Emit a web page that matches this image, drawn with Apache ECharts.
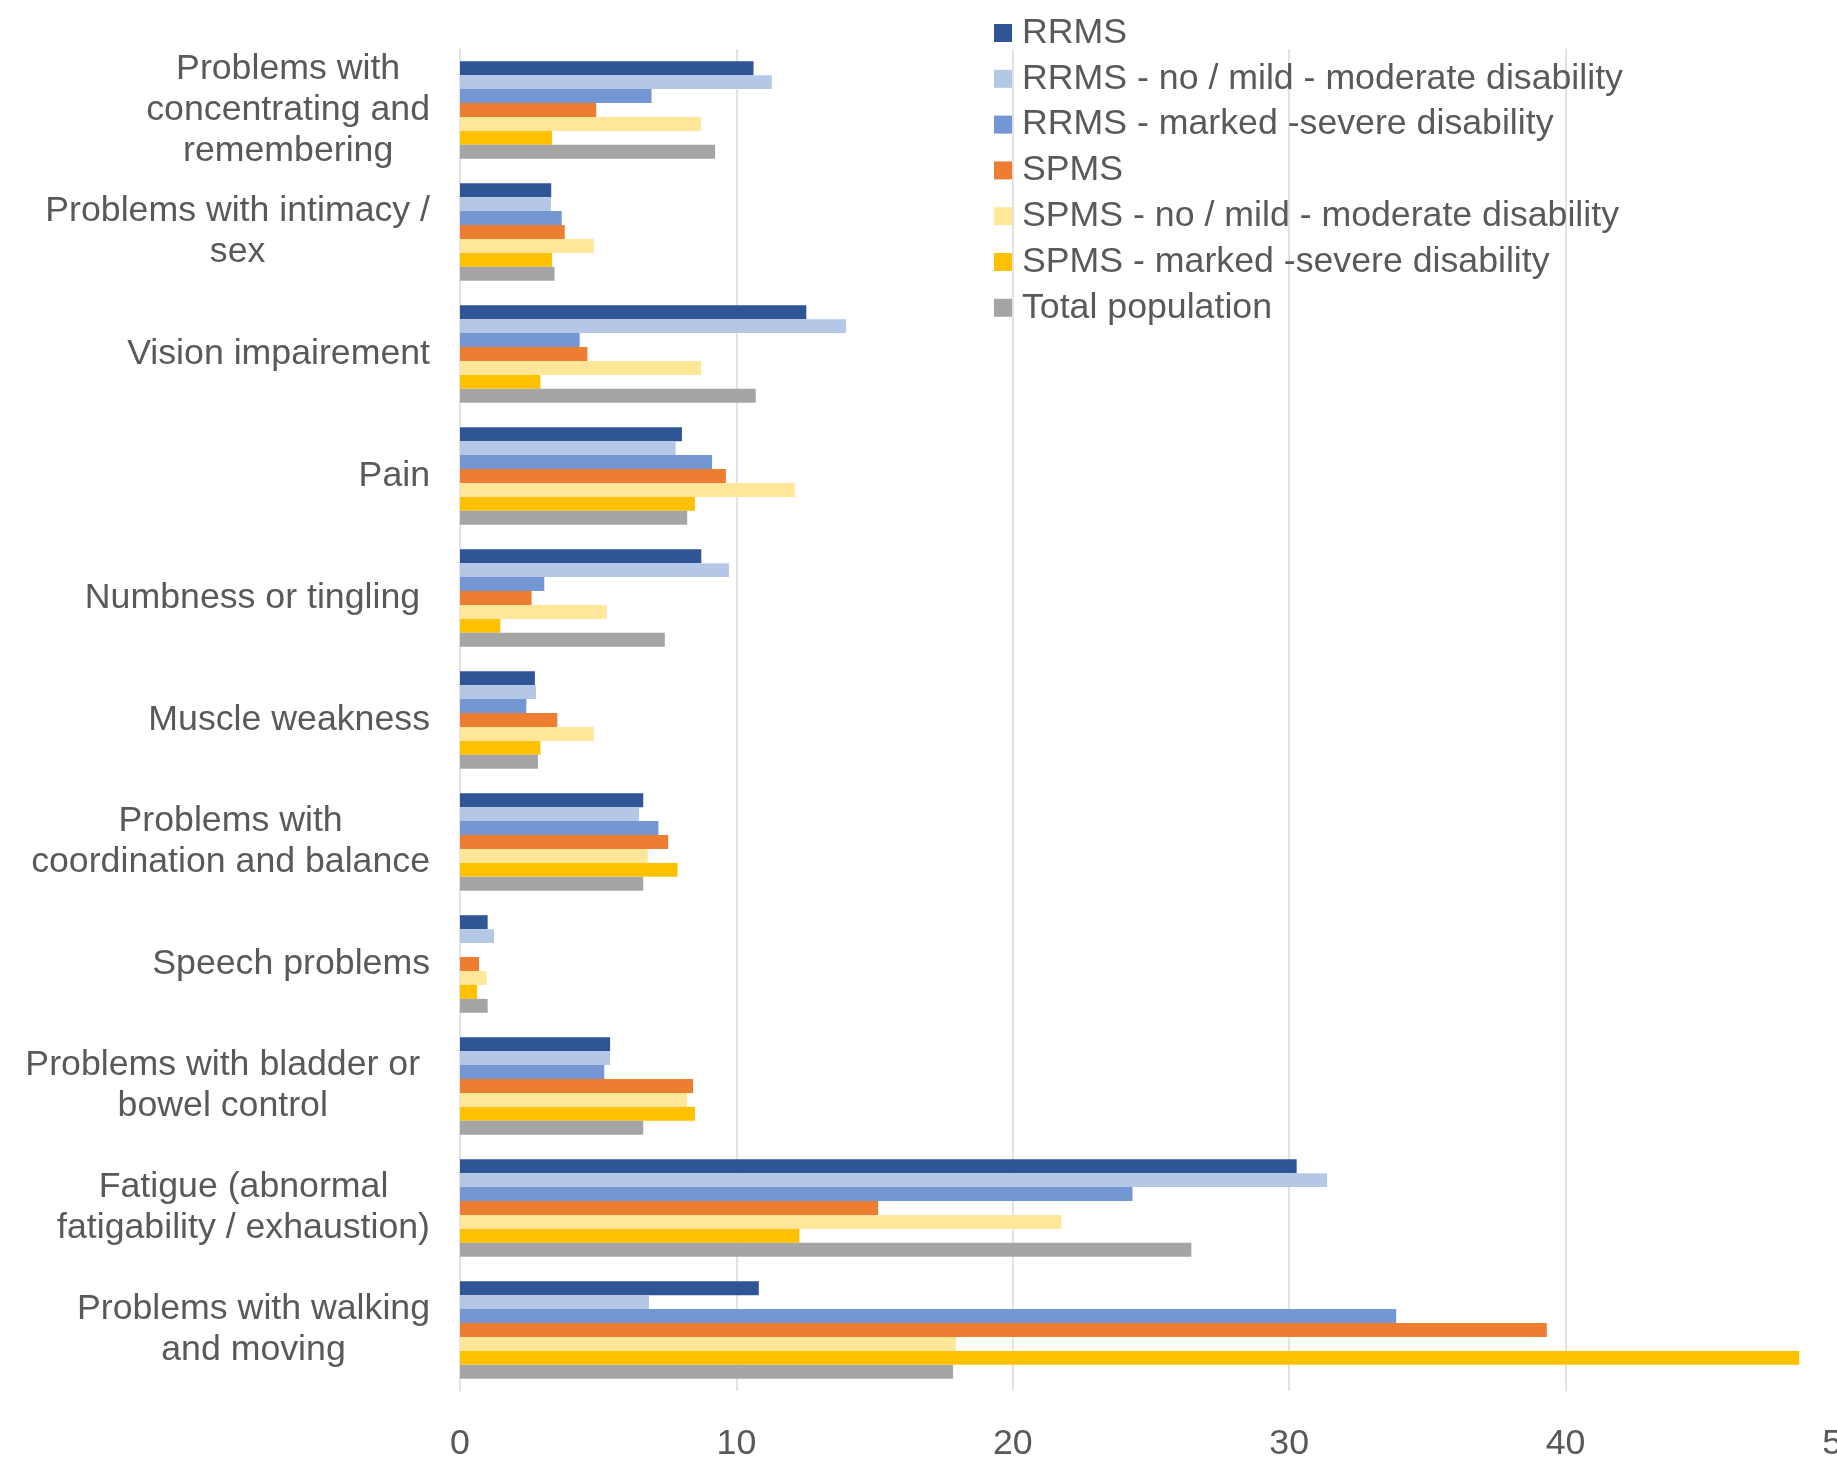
<!DOCTYPE html>
<html>
<head>
<meta charset="utf-8">
<script src="https://cdn.jsdelivr.net/npm/echarts@6/dist/echarts.min.js"></script>
<style>
html, body { margin: 0; padding: 0; background: #ffffff; }
#chart { width: 1837px; height: 1465px; }
</style>
</head>
<body>
<div id="chart"></div>
<script>
const categories = [
  "Problems with\nconcentrating and\nremembering",
  "Problems with intimacy /\nsex",
  "Vision impairement",
  "Pain",
  "Numbness or tingling ",
  "Muscle weakness",
  "Problems with\ncoordination and balance",
  "Speech problems",
  "Problems with bladder or \nbowel control ",
  "Fatigue (abnormal\nfatigability / exhaustion)",
  "Problems with walking\nand moving"
];
const seriesNames = [
  "RRMS",
  "RRMS - no / mild - moderate disability",
  "RRMS - marked -severe disability",
  "SPMS",
  "SPMS - no / mild - moderate disability",
  "SPMS - marked -severe disability",
  "Total population"
];
const rrms           = [10.62, 3.30, 12.53, 8.03, 8.73, 2.71, 6.63, 1.00, 5.43, 30.27, 10.81];
const rrmsMild       = [11.28, 3.29, 13.97, 7.80, 9.73, 2.75, 6.48, 1.23, 5.43, 31.37, 6.84];
const rrmsSevere     = [6.93, 3.68, 4.33, 9.12, 3.05, 2.40, 7.18, 0, 5.22, 24.33, 33.87];
const spms           = [4.93, 3.79, 4.61, 9.62, 2.59, 3.52, 7.53, 0.69, 8.43, 15.13, 39.32];
const spmsMild       = [8.72, 4.84, 8.73, 12.11, 5.30, 4.84, 6.79, 0.96, 8.22, 21.76, 17.94];
const spmsSevere     = [3.33, 3.33, 2.91, 8.50, 1.46, 2.91, 7.87, 0.62, 8.50, 12.28, 48.45];
const totalPop       = [9.23, 3.42, 10.70, 8.22, 7.41, 2.82, 6.63, 1.00, 6.63, 26.46, 17.84];
const xTicks = [0, 10, 20, 30, 40, 50];

const colors = ["#2F5597", "#B4C7E7", "#7497D4", "#ED7D31", "#FFE699", "#FFC000", "#A5A5A5"];
const allValues = [rrms, rrmsMild, rrmsSevere, spms, spmsMild, spmsSevere, totalPop];

const FONT = "'Liberation Sans', Arial, sans-serif";
const TEXT = "#595959";
const FS = 35.7;

const chart = echarts.init(document.getElementById('chart'), null, { renderer: 'canvas' });
chart.setOption({
  animation: false,
  color: colors,
  textStyle: { fontFamily: FONT },
  grid: { left: 460, right: -5, top: 49, bottom: 74, containLabel: false, outerBoundsMode: 'none' },
  legend: {
    orient: 'vertical',
    left: 994,
    top: 15,
    padding: 0,
    icon: 'rect',
    itemWidth: 18,
    itemHeight: 18,
    itemGap: 9.8,
    selectedMode: false,
    data: seriesNames,
    textStyle: { fontFamily: FONT, fontSize: FS, color: TEXT, lineHeight: 35.5, padding: [0, 0, 0, 5] }
  },
  xAxis: {
    type: 'value',
    min: xTicks[0],
    max: xTicks[xTicks.length - 1],
    interval: 10,
    axisLine: { show: false },
    axisTick: { show: false },
    axisLabel: { fontFamily: FONT, fontSize: FS, color: TEXT, margin: 35, showMaxLabel: true },
    splitLine: { show: true, lineStyle: { color: '#D9D9D9', width: 1.5 } }
  },
  yAxis: {
    type: 'category',
    inverse: true,
    data: categories,
    axisLine: { show: false },
    axisTick: { show: false },
    axisLabel: {
      margin: 30,
      formatter: function (v) { return '{c|' + v + '}'; },
      rich: {
        c: { fontFamily: FONT, fontSize: FS, color: TEXT, lineHeight: 41, align: 'center' }
      }
    }
  },
  series: seriesNames.map(function (name, i) {
    return {
      name: name,
      type: 'bar',
      data: allValues[i],
      barGap: '0%',
      barCategoryGap: '20%',
      itemStyle: { color: colors[i] }
    };
  })
});
</script>
</body>
</html>
